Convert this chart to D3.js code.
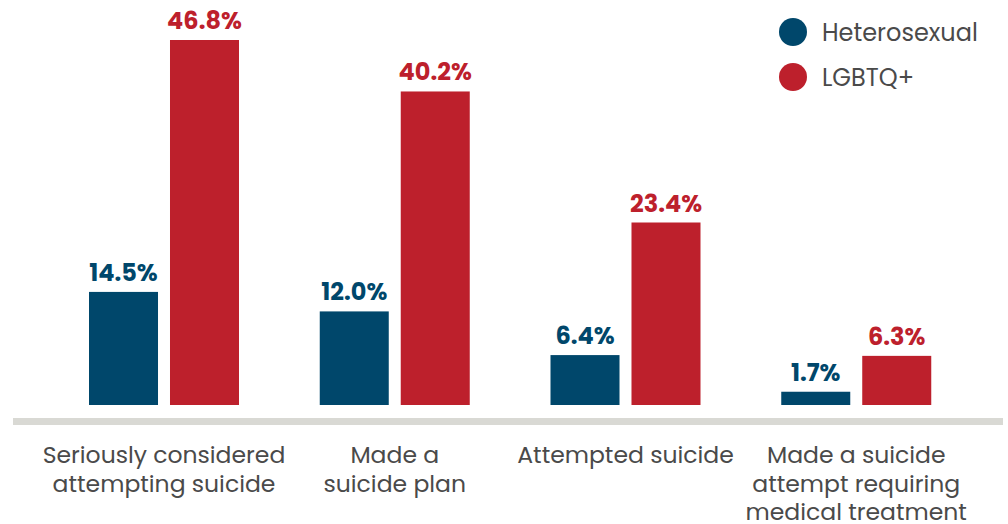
<!DOCTYPE html>
<html>
<head>
<meta charset="utf-8">
<script src="https://cdn.jsdelivr.net/npm/d3@7"></script>
<style>
  body { margin: 0; background: #fff; }
  svg { display: block; font-family: Poppins, 'Open Sans', sans-serif; }
</style>
</head>
<body>
<div id="chart"></div>
<script>
// data
const categories = [
  ['Seriously considered', 'attempting suicide'],
  ['Made a', 'suicide plan'],
  ['Attempted suicide'],
  ['Made a suicide', 'attempt requiring', 'medical treatment']
]
const series = ['Heterosexual', 'LGBTQ+']
const heterosexual = [14.5, 12.0, 6.4, 1.7]
const lgbtq = [46.8, 40.2, 23.4, 6.3]
const colors = ['#00476b', '#bd202c']

const width = 1008, height = 524
const svg = d3.select('#chart').append('svg')
  .attr('width', width)
  .attr('height', height)

// group scale -> each group is a pair of bars
const x = d3.scaleBand()
  .domain(d3.range(categories.length))
  .range([49, 972])
  .paddingInner(0)
const xInner = d3.scaleBand()
  .domain(series)
  .range([40, 190])
  .paddingInner(0.148)

const y = d3.scaleLinear().domain([0, 46.8]).range([405, 40])

const rows = categories.map((c, i) => ({ i, values: [heterosexual[i], lgbtq[i]] }))

// baseline
svg.append('rect')
  .attr('x', 13).attr('y', 418)
  .attr('width', 990).attr('height', 7)
  .attr('fill', '#d9d9d4')

const groups = svg.selectAll('.grp')
  .data(rows)
  .join('g')
  .attr('class', 'grp')
  .attr('transform', d => `translate(${x(d.i)},0)`)

groups.selectAll('rect')
  .data(d => d.values.map((v, k) => ({ k, v })))
  .join('rect')
  .attr('x', d => xInner(series[d.k]))
  .attr('width', xInner.bandwidth())
  .attr('y', d => y(d.v))
  .attr('height', d => y(0) - y(d.v))
  .attr('fill', d => colors[d.k])

groups.selectAll('.val')
  .data(d => d.values.map((v, k) => ({ k, v })))
  .join('text')
  .attr('class', 'val')
  .attr('x', d => xInner(series[d.k]) + xInner.bandwidth() / 2)
  .attr('y', d => y(d.v) - 11)
  .attr('text-anchor', 'middle')
  .attr('font-size', 24)
  .attr('font-weight', 700)
  .attr('fill', d => colors[d.k])
  .text(d => d.v.toFixed(1) + '%')

// category labels, one tspan per line
const mid = (xInner.range()[0] + xInner.range()[1]) / 2
groups.append('text')
  .attr('text-anchor', 'middle')
  .attr('font-size', 23.5)
  .attr('fill', '#4a4a4a')
  .selectAll('tspan')
  .data(d => categories[d.i])
  .join('tspan')
  .attr('x', mid)
  .attr('y', (d, j) => 463 + j * 28.7)
  .text(d => d)

// legend
const legend = svg.selectAll('.leg')
  .data(series)
  .join('g')
  .attr('class', 'leg')
  .attr('transform', (d, i) => `translate(793,${32 + i * 45})`)
legend.append('circle').attr('r', 14).attr('fill', (d, i) => colors[i])
legend.append('text')
  .attr('x', 29).attr('y', 9)
  .attr('font-size', 24)
  .attr('fill', '#4a4a4a')
  .text(d => d)
</script>
</body>
</html>
